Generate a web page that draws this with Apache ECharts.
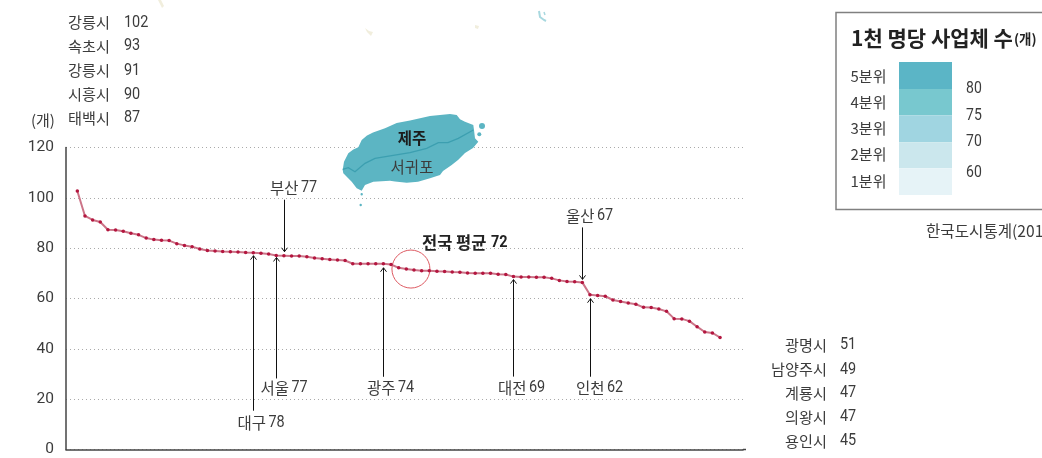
<!DOCTYPE html>
<html><head><meta charset="utf-8">
<style>html,body{margin:0;padding:0;background:#fff;overflow:hidden}#c{width:1042px;height:458px}</style>
<script src="https://cdn.jsdelivr.net/npm/echarts@6/dist/echarts.min.js"></script>
</head><body><div id="c"></div>
<script>
const cityValues = [102.7,92.8,91.2,90.4,87.3,87.2,86.7,85.9,85.3,84.0,83.4,83.1,83.0,81.8,81.1,80.6,79.7,79.1,78.9,78.7,78.6,78.5,78.3,78.2,78.0,77.7,77.1,77.0,76.9,76.9,76.6,76.1,75.8,75.5,75.3,75.1,73.8,73.8,73.8,73.8,73.8,73.5,72.2,71.7,71.3,71.0,71.0,70.8,70.7,70.5,70.4,70.1,70.0,70.0,70.0,69.6,69.5,68.7,68.5,68.5,68.4,68.4,68.0,67.2,66.8,66.7,66.4,61.5,61.2,60.9,59.4,58.8,58.2,57.7,56.5,56.4,55.8,54.9,52.0,51.9,51.0,48.8,46.7,46.3,44.5];
const yTicks = [0,20,40,60,80,100,120];
const topNames = ['강릉시','속초시','강릉시','시흥시','태백시'];
const topValues = [102,93,91,90,87];
const bottomNames = ['광명시','남양주시','계룡시','의왕시','용인시'];
const bottomValues = [51,49,47,47,45];
const calloutNames = ['대구','서울','부산','광주','대전','울산','인천'];
const calloutValues = [78,77,77,74,69,67,62];
const calloutIndex = [23,26,27,40,57,66,67];
const legendNames = ['5분위','4분위','3분위','2분위','1분위'];
const legendColors = ['#5bb5c6','#78c8cf','#a0d5e1','#cbe7ed','#e6f3f7'];
const legendBreaks = [80,75,70,60];

const KR = '"Noto Sans CJK KR"', NUM = 'Roboto';
const INK = '#3c3c3c';
function tx(text,x,y,font,size,align,extra){
  return {type:'text',x:x,y:y,z:20,silent:true,style:Object.assign({text:text,fontFamily:font,fontSize:size,fill:INK,align:align||'left',verticalAlign:'middle'},extra||{})};
}
function num(text,x,y,size,extra){
  return {type:'text',x:x,y:y,z:20,silent:true,scaleX:0.85,originX:0,originY:0,style:Object.assign({text:text,fontFamily:NUM,fontSize:size||17,fill:INK,align:'left',verticalAlign:'middle'},extra||{})};
}
const g = [];
// faint map fragments
[[[158,0],[161,0],[164,6],[162,8]],[[365,28],[369,31],[373,32],[371,36],[367,32]],[[475,25],[479,26],[478,29],[475,28]]]
 .forEach(p=>g.push({type:'polygon',shape:{points:p},style:{fill:'#f1eedd'},silent:true}));
g.push({type:'polyline',shape:{points:[[539,11],[540,17],[544,20],[546,21]]},style:{stroke:'#a8d8df',lineWidth:2,fill:null},silent:true});
g.push({type:'polyline',shape:{points:[[544,12],[545,15]]},style:{stroke:'#a8d8df',lineWidth:1.5,fill:null},silent:true});
// island
g.push({type:'polygon',z:5,silent:true,shape:{points:[[342.7,170],[344,161.7],[348.3,153.3],[353.3,149.5],[358.3,147.3],[361.7,140],[367,135.5],[373,132.5],[385,128.3],[396.7,123],[410,120.5],[420,118.3],[430,116],[440,115],[450,114],[456.7,115],[460,119.3],[465,121.7],[473.3,125],[474,130],[475,138.3],[478.3,141.7],[473,148],[465,153],[458,160],[451.7,165],[443,171],[440,175],[430,178.3],[418,181.7],[406.7,182.7],[395,181.5],[390,180.7],[373.3,181.7],[365,185],[361.7,190.7],[356.7,188.3],[351.7,181.7],[343.3,173.3]]},style:{fill:'#5cb5c3'}});
g.push({type:'polyline',z:6,silent:true,shape:{points:[[342.7,169.3],[348.3,167.7],[355,171.7],[365,163.3],[375,158.3],[391.7,155.7],[410,152.7],[426.7,148.3],[438.3,142.7],[448,142.7],[458.3,138.3],[473.3,130]]},style:{stroke:'#3c9fb0',lineWidth:1.3,fill:null}});
[[482,126,3],[479.3,134.3,2],[361.7,194.3,1.2],[360.7,205,1.2]].forEach(c=>g.push({type:'circle',z:5,silent:true,shape:{cx:c[0],cy:c[1],r:c[2]},style:{fill:'#5cb5c3'}}));
g.push(tx('제주',412,138,KR,15.5,'center',{fontWeight:'bold',fill:'#1c1c1c'}));
g.push(tx('서귀포',412,167,KR,15.5,'center'));
// x axis tail
g.push({type:'line',z:3,silent:true,shape:{x1:743,y1:449.5,x2:746,y2:449.5},style:{stroke:'#444',lineWidth:1.5}});
// unit
g.push(tx('(개)',31,120,KR,15));
// top list
topNames.forEach((s,i)=>{const y=[22.5,46,70.5,94.5,118][i];
  g.push(tx(s,68,y,KR,15.2)); g.push(num(String(topValues[i]),124,y));});
// bottom list
bottomNames.forEach((s,i)=>{const y=[345,369.5,393,417,441][i];
  g.push(tx(s,827,y,KR,15.2,'right')); g.push(num(String(bottomValues[i]),840,y));});
// callouts
[[237.5,423],[260.5,388],[270,188],[367,388],[498,388],[566,216],[576,388]].forEach((p,i)=>{
  g.push(tx(calloutNames[i],p[0],p[1],KR,15.5));
  g.push(num(String(calloutValues[i]),p[0]+31,p[1]));
});
g.push(tx('전국 평균',422,243,KR,16.5,'left',{fontWeight:'bold',fill:'#222'}));
g.push(num('72',491,243,17,{fontWeight:'bold',fill:'#222'}));
// legend box
g.push({type:'rect',z:1,silent:true,shape:{x:836,y:12.5,width:230,height:197},style:{fill:'#fff',stroke:'#808080',lineWidth:1.5}});
g.push(tx('1천 명당 사업체 수',851,38,KR,21,'left',{fontWeight:'bold',fill:'#222'}));
g.push(tx('(개)',1014,39,KR,13.5,'left',{fontWeight:'bold',fill:'#222'}));
const bandY=[62,89,115.3,142.3,168.3,195];
legendColors.forEach((c,i)=>{
  g.push({type:'rect',z:2,silent:true,shape:{x:899,y:bandY[i],width:53,height:bandY[i+1]-bandY[i]},style:{fill:c}});
  g.push(tx(legendNames[i],850.5,[76,102,128,154,181][i],KR,15));
});
legendBreaks.forEach((v,i)=>g.push(num(String(v),966,[89,116,142,173][i],16.5)));
g.push(tx('한국도시통계(2014)',926,231,KR,15.6));

// arrows drawn from data through the axes
const arrowSpans = [155,121,-52,109,97,-52,78]; // px length from tip to tail (negative: tail above)
const tipGaps = [3,2,-4,4,3,-3,4];
const chart = echarts.init(document.getElementById('c'),null,{renderer:'canvas'});
chart.setOption({
  animation:false,
  graphic:g,
  grid:{left:66,top:147.5,width:677,height:302,containLabel:false},
  xAxis:{type:'value',min:-1.48,max:87,show:true,axisLine:{show:true,onZero:false,lineStyle:{color:'#444',width:1.5}},axisTick:{show:false},axisLabel:{show:false},splitLine:{show:false}},
  yAxis:{type:'value',min:0,max:120,interval:20,
    axisLine:{show:true,onZero:false,lineStyle:{color:'#444',width:1.5}},axisTick:{show:false},
    axisLabel:{margin:12,fontFamily:NUM,fontSize:15.5,color:INK,formatter:v=>yTicks.includes(v)?String(v):''},
    splitLine:{show:true,lineStyle:{type:[1,3],color:'#aaaaaa',width:1}}},
  series:[
    {type:'line',z:4,data:cityValues.map((v,i)=>[i,v]),symbol:'circle',symbolSize:3.5,showSymbol:true,
      lineStyle:{color:'#cc7488',width:2},itemStyle:{color:'#b3163f'},silent:true},
    {type:'custom',z:7,silent:true,clip:false,coordinateSystem:'cartesian2d',
      data:calloutIndex.map((ix,i)=>[ix,cityValues[ix],i]),
      renderItem:(p,api)=>{
        const i=api.value(2), c=api.coord([api.value(0),api.value(1)]);
        const x=Math.round(c[0])+0.5, tip=c[1]+tipGaps[i], tail=tip+arrowSpans[i], d=tail>tip?1:-1;
        const st={stroke:'#111',lineWidth:1,fill:null};
        return {type:'group',children:[
          {type:'line',shape:{x1:x,y1:tip,x2:x,y2:tail},style:st},
          {type:'polyline',shape:{points:[[x-3,tip+4*d],[x,tip],[x+3,tip+4*d]]},style:st}
        ]};
      }},
    {type:'custom',z:3,silent:true,clip:false,coordinateSystem:'cartesian2d',
      data:[[43.6,71.7]],
      renderItem:(p,api)=>{
        const c=api.coord([api.value(0),api.value(1)]);
        return {type:'circle',shape:{cx:c[0],cy:c[1],r:19},style:{stroke:'#dd5a62',lineWidth:1,fill:null}};
      }}
  ]
});
</script></body></html>
